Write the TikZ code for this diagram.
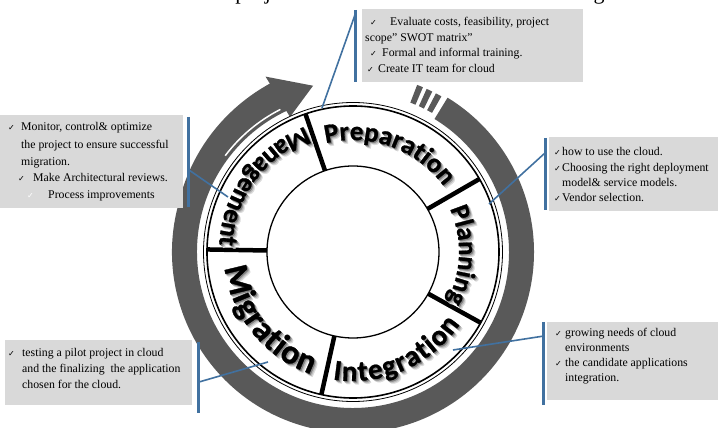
\documentclass[tikz,border=0pt]{standalone}
\usepackage{fontspec}
\setmainfont{Liberation Serif}
\newfontfamily\carl{Carlito}[FakeBold=1]
\newfontfamily\dejavu{DejaVu Sans}
\usetikzlibrary{decorations.text}
\definecolor{bandgray}{RGB}{89,89,89}
\definecolor{boxgray}{RGB}{217,217,217}
\definecolor{callblue}{RGB}{65,113,160}
\newcommand\mychk{{\dejavu\fontsize{8}{8}\selectfont ✓}}
\newcommand\labprep{\carl\bfseries\fontsize{27}{27}\selectfont}
\newcommand\labplan{\carl\bfseries\fontsize{26.5}{26.5}\selectfont}
\newcommand\labint{\carl\bfseries\fontsize{29}{29}\selectfont}
\newcommand\labmig{\carl\bfseries\fontsize{34}{34}\selectfont}
\newcommand\labman{\carl\bfseries\fontsize{27}{27}\selectfont}
\newcommand\ringlabel[5]{%
  \foreach \dx/\cc in {3.2/black!14, 2.2/black!28, 1.2/black!50}{%
    \path[shift={(\dx,-\dx)}, decorate, decoration={text along path, text={|#2|#1}, text color=\cc, text align={fit to path}}] (#3:#5) arc[start angle=#3, end angle=#4, radius=#5];}
  \path[decorate, decoration={text along path, text={|#2|#1}, text color=black, text align={fit to path}}] (#3:#5) arc[start angle=#3, end angle=#4, radius=#5];}
\tikzset{
  band/.style={fill=bandgray},
  boxfill/.style={fill=boxgray},
  callline/.style={draw=callblue, line width=1.6},
  callbar/.style={draw=callblue, line width=3},
  boxtext/.style={anchor=base west, inner sep=0, font=\fontsize{11.8}{14}\selectfont},
  divider/.style={line width=4.5}
}
\begin{document}
\begin{tikzpicture}[x=1pt,y=1pt]
\useasboundingbox (-353,-176) rectangle (365,252);
% title (only descenders visible)
\node[anchor=base west, inner sep=0, font=\fontsize{22}{22}\selectfont] (title) at (-177,252) {Cloud project model and the whole cloud management};
% gray circular arrow band
\fill[band] (58.5:156) arc[start angle=58.5, end angle=-245, radius=156]
  -- (-245:188) -- plot[domain=-245:-195, samples=25] (\x:{188-7*(\x+245)/50})
  arc[start angle=-195, end angle=58.5, radius=181] -- cycle;
\fill[band] (115:149) -- (103.5:171) -- (116.5:196) -- cycle;
\draw[white, line width=1.5] (143:160) arc[start angle=143, end angle=117, radius=160];
\foreach \a in {68,64.7,61.4}{
  \fill[band] (\a-1:160) arc[start angle=\a-1, end angle=\a+1, radius=160]
    -- (\a+1:179) arc[start angle=\a+1, end angle=\a-1, radius=179] -- cycle;}
% ring
\fill[white] (0,0) circle[radius=149.5];
\draw[line width=0.8] (0,0) circle[radius=149.5];
\draw[line width=1.6] (0,0) circle[radius=146];
\draw[line width=1.3, fill=white] (0,0) circle[radius=86];
\foreach \a in {109,30,-29,-102.5,179}{\draw[divider] (\a:86) -- (\a:146);}
% labels
\ringlabel{Preparation}{\labprep}{104}{37}{112}
\ringlabel{Planning}{\labplan}{24}{-26}{106}
\ringlabel{Integration}{\labint}{-99}{-34}{129}
\ringlabel{Migration}{\labmig}{187}{251}{129}
\ringlabel{Management}{\labman}{111}{177}{134}
% callouts in image coordinates
\begin{scope}[shift={(-353,252)}, yscale=-1]
  % Preparation box
  \fill[boxfill] (362,9) rectangle (583,82);
  \coordinate (pb1) at (356,10); \coordinate (pb2) at (356,82);
  \coordinate (pstart) at (356,12); \coordinate (pend) at (322,108);
  \draw[callbar] (pb1) -- (pb2);
  \draw[callline] (pstart) -- (pend);
  \node[boxtext] (p1) at (370,26) {\makebox[20pt][l]{\mychk}Evaluate costs, feasibility, project};
  \node[boxtext] (p2) at (365,42) {scope” SWOT matrix”};
  \node[boxtext] (p3) at (370,57) {\makebox[12pt][l]{\mychk}Formal and informal training.};
  \node[boxtext] (p4) at (367,73) {\makebox[11pt][l]{\mychk}Create IT team for cloud};
  % Management box
  \fill[boxfill] (0,115) rectangle (183,208);
  \coordinate (mb1) at (189,117); \coordinate (mb2) at (189,207);
  \coordinate (mstart) at (189,170); \coordinate (mend) at (228,197);
  \draw[callbar] (mb1) -- (mb2);
  \draw[callline] (mstart) -- (mend);
  \node[boxtext] (m1) at (8,131) {\makebox[13pt][l]{\mychk}Monitor, control\& optimize};
  \node[boxtext] (m2) at (21,149) {the project to ensure successful};
  \node[boxtext] (m3) at (21,166) {migration.};
  \node[boxtext] (m4) at (18,182) {\makebox[15pt][l]{\mychk}Make Architectural reviews.};
  \node[boxtext] (m5) at (27,199) {\makebox[21pt][l]{\color{white}\mychk}Process improvements};
  % Planning box
  \fill[boxfill] (549,137) rectangle (718,211);
  \coordinate (nb1) at (545,138); \coordinate (nb2) at (545,210);
  \coordinate (nstart) at (545,153); \coordinate (nend) at (489,204);
  \draw[callbar] (nb1) -- (nb2);
  \draw[callline] (nstart) -- (nend);
  \node[boxtext] (n1) at (554,156) {\makebox[8pt][l]{\mychk}how to use the cloud.};
  \node[boxtext] (n2) at (554,172) {\makebox[8pt][l]{\mychk}Choosing the right deployment};
  \node[boxtext] (n3) at (562,187) {model\& service models.};
  \node[boxtext] (n4) at (554,202) {\makebox[8pt][l]{\mychk}Vendor selection.};
  % Integration box
  \fill[boxfill] (547,322) rectangle (718,400);
  \coordinate (ib1) at (543,322); \coordinate (ib2) at (543,405);
  \coordinate (istart) at (544,336); \coordinate (iend) at (453,350);
  \draw[callbar] (ib1) -- (ib2);
  \draw[callline] (istart) -- (iend);
  \node[boxtext] (i1) at (555,337) {\makebox[10pt][l]{\mychk}growing needs of cloud};
  \node[boxtext] (i2) at (565,352) {environments};
  \node[boxtext] (i3) at (555,367) {\makebox[10pt][l]{\mychk}the candidate applications};
  \node[boxtext] (i4) at (565,382) {integration.};
  % Migration box
  \fill[boxfill] (5,340) rectangle (192,405);
  \coordinate (gb1) at (199,342); \coordinate (gb2) at (199,413);
  \coordinate (gstart) at (199,382); \coordinate (gend) at (268,362);
  \draw[callbar] (gb1) -- (gb2);
  \draw[callline] (gstart) -- (gend);
  \node[boxtext] (g1) at (8,357) {\makebox[14pt][l]{\mychk}testing a pilot project in cloud};
  \node[boxtext] (g2) at (22,373) {and the finalizing\ \ the application};
  \node[boxtext] (g3) at (22,389) {chosen for the cloud.};
\end{scope}
\end{tikzpicture}
\end{document}
